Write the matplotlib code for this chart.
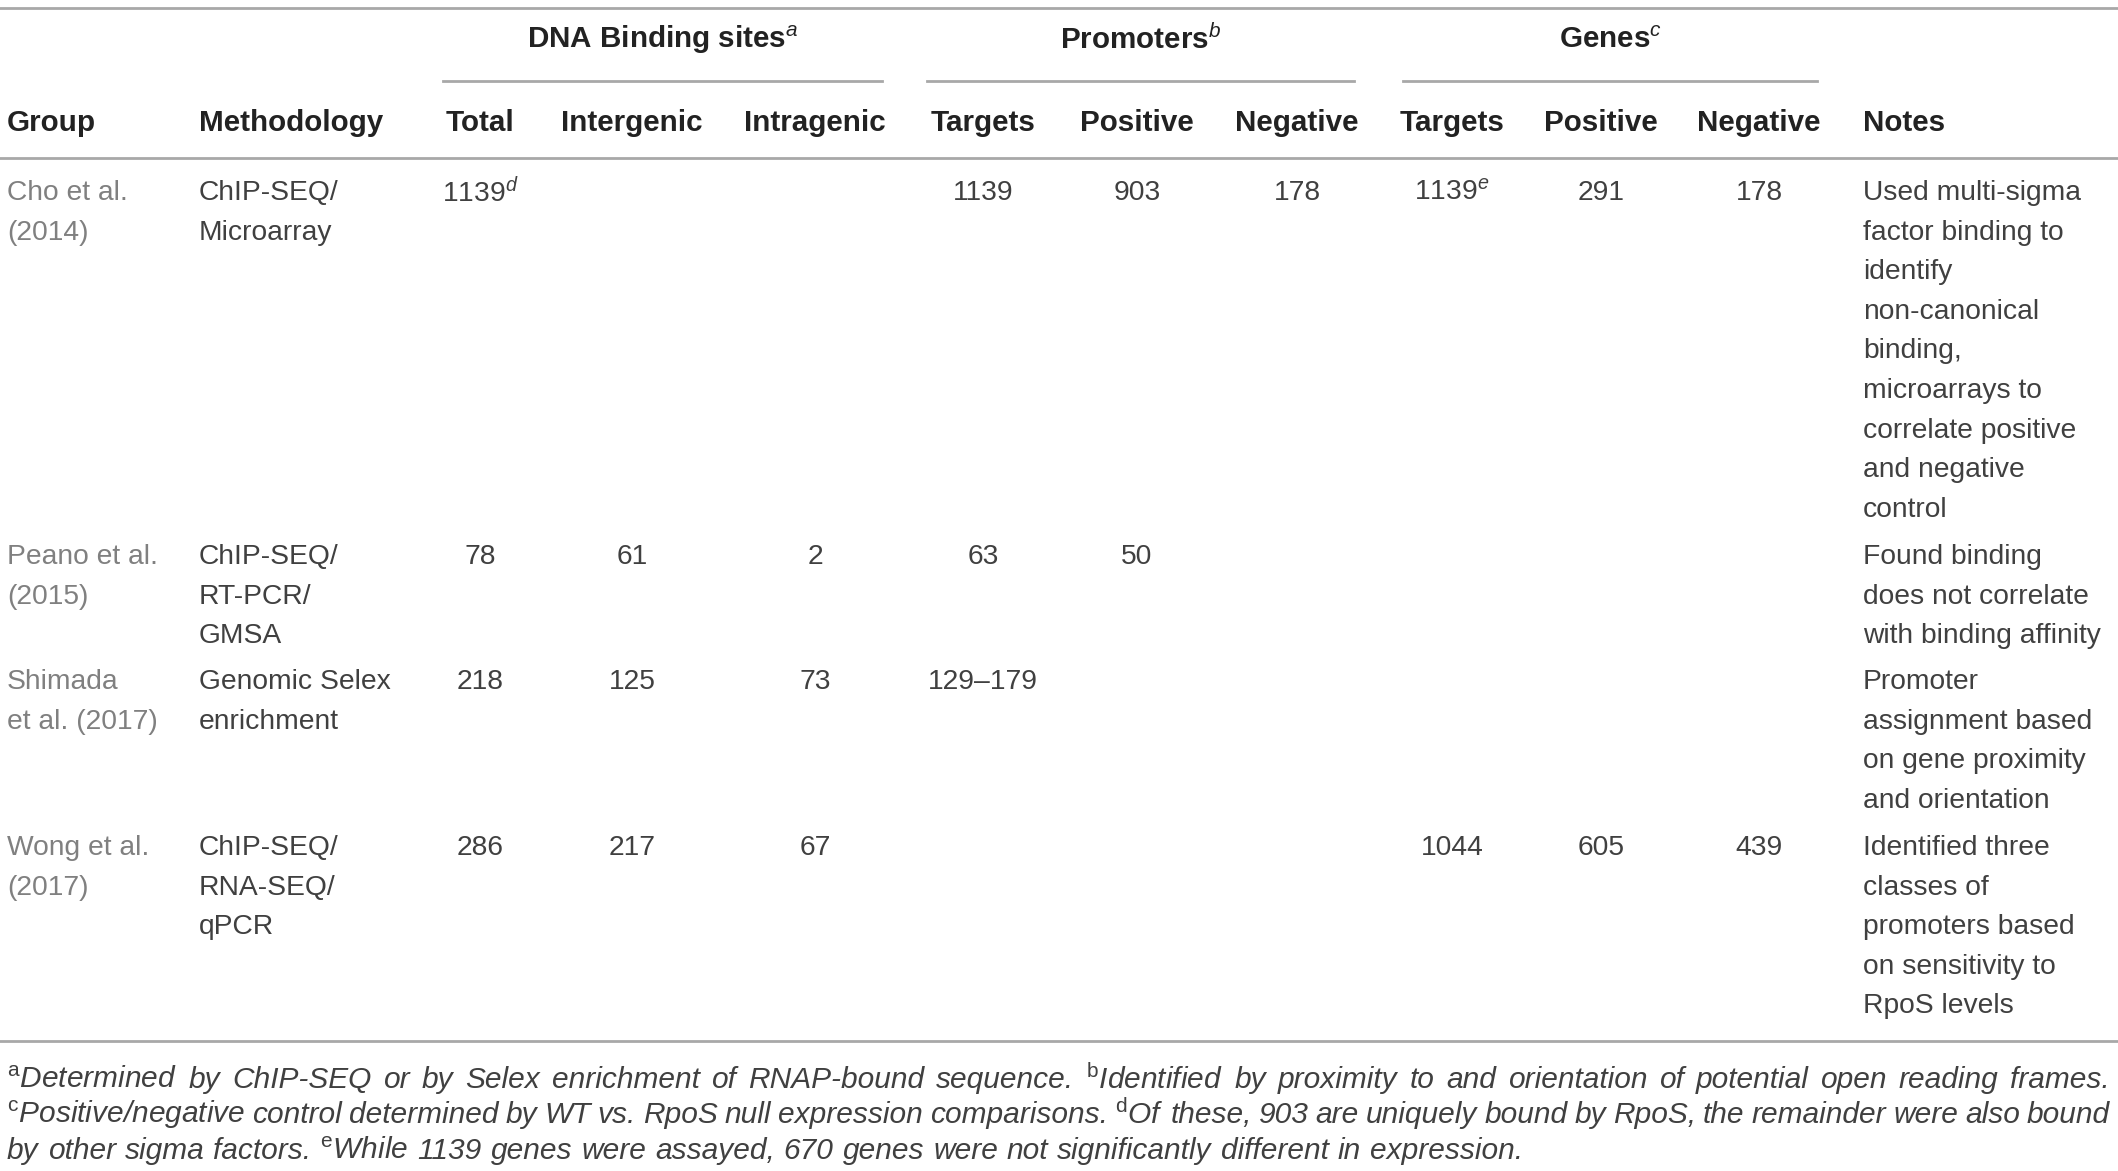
import matplotlib
matplotlib.use("Agg")
from matplotlib import pyplot as plt

plt.rcParams['font.family'] = ['Liberation Sans', 'DejaVu Sans']
plt.rcParams['mathtext.fontset'] = 'custom'
plt.rcParams['mathtext.rm'] = 'Liberation Sans'
plt.rcParams['mathtext.it'] = 'Liberation Sans:italic'
plt.rcParams['mathtext.bf'] = 'Liberation Sans:bold'

# table content
group_headers = ["DNA Binding sites$^{a}$", "Promoters$^{b}$", "Genes$^{c}$"]
col_headers = ["Group", "Methodology", "Total", "Intergenic", "Intragenic",
               "Targets", "Positive", "Negative", "Targets", "Positive", "Negative", "Notes"]

groups = [["Cho et al.", "(2014)"],
          ["Peano et al.", "(2015)"],
          ["Shimada", "et al. (2017)"],
          ["Wong et al.", "(2017)"]]
methods = [["ChIP-SEQ/", "Microarray"],
           ["ChIP-SEQ/", "RT-PCR/", "GMSA"],
           ["Genomic Selex", "enrichment"],
           ["ChIP-SEQ/", "RNA-SEQ/", "qPCR"]]
dna_total = ["1139$^{d}$", "78", "218", "286"]
dna_inter = ["", "61", "125", "217"]
dna_intra = ["", "2", "73", "67"]
prom_targets = ["1139", "63", "129\u2013179", ""]
prom_pos = ["903", "50", "", ""]
prom_neg = ["178", "", "", ""]
gene_targets = ["1139$^{e}$", "", "", "1044"]
gene_pos = ["291", "", "", "605"]
gene_neg = ["178", "", "", "439"]
notes = [["Used multi-sigma", "factor binding to", "identify", "non-canonical", "binding,",
          "microarrays to", "correlate positive", "and negative", "control"],
         ["Found binding", "does not correlate", "with binding affinity"],
         ["Promoter", "assignment based", "on gene proximity", "and orientation"],
         ["Identified three", "classes of", "promoters based", "on sensitivity to",
          "RpoS levels"]]

footnote_lines = [
    "$^{\\mathrm{a}}$Determined by ChIP-SEQ or by Selex enrichment of RNAP-bound sequence. "
    "$^{\\mathrm{b}}$Identified by proximity to and orientation of potential open reading frames.",
    "$^{\\mathrm{c}}$Positive/negative control determined by WT vs. RpoS null expression comparisons. "
    "$^{\\mathrm{d}}$Of these, 903 are uniquely bound by RpoS, the remainder were also bound",
    "by other sigma factors. $^{\\mathrm{e}}$While 1139 genes were assayed, 670 genes were "
    "not significantly different in expression.",
]

W, H = 2118, 1171
fig = plt.figure(figsize=(W / 100, H / 100), dpi=100)
ax = fig.add_axes([0, 0, 1, 1])
ax.set_xlim(0, W)
ax.set_ylim(H, 0)
ax.axis('off')

line_col = '#a8a8a8'
txt_col = '#404040'
grp_col = '#808080'
head_col = '#222222'
fs = 20.3
fs_head = 21.3
fs_foot = 21.5
step = 39.6

# rules
ax.plot([0, W], [8, 8], color=line_col, lw=2)
ax.plot([0, W], [158, 158], color=line_col, lw=2)
ax.plot([0, W], [1041, 1041], color=line_col, lw=2)
spans = [(443, 882), (927, 1354), (1403, 1817)]
for (a, b), lab in zip(spans, group_headers):
    ax.plot([a, b], [81, 81], color=line_col, lw=2)
    ax.text((a + b) / 2, 40, lab, ha='center', va='center', fontsize=fs_head,
            fontweight='bold', color=head_col)

col_x = [7, 199, 480, 632, 815, 983, 1137, 1297, 1452, 1601, 1759, 1863]
col_ha = ['left', 'left'] + ['center'] * 9 + ['left']
for x, ha, lab in zip(col_x, col_ha, col_headers):
    ax.text(x, 123, lab, ha=ha, va='center', fontsize=fs_head, fontweight='bold',
            color=head_col)

row_y = [193, 557, 682, 848]
num_cols = [dna_total, dna_inter, dna_intra, prom_targets, prom_pos, prom_neg,
            gene_targets, gene_pos, gene_neg]
for i, y0 in enumerate(row_y):
    for k, s in enumerate(groups[i]):
        ax.text(col_x[0], y0 + k * step, s, ha='left', va='center', fontsize=fs,
                color=grp_col)
    for k, s in enumerate(methods[i]):
        ax.text(col_x[1], y0 + k * step, s, ha='left', va='center', fontsize=fs,
                color=txt_col)
    for j, col in enumerate(num_cols):
        if col[i]:
            ax.text(col_x[2 + j], y0, col[i], ha='center', va='center', fontsize=fs,
                    color=txt_col)
    for k, s in enumerate(notes[i]):
        ax.text(col_x[11], y0 + k * step, s, ha='left', va='center', fontsize=fs,
                color=txt_col)

# justified footnotes
renderer = fig.canvas.get_renderer()
foot_y = [1080, 1115, 1151]
x0, x1 = 7, 2110
for n, (line, y) in enumerate(zip(footnote_lines, foot_y)):
    words = line.split(' ')
    texts = [ax.text(0, y, w, ha='left', va='center', fontsize=fs_foot,
                     fontstyle='italic', color=txt_col) for w in words]
    widths = [t.get_window_extent(renderer).width for t in texts]
    gap = fs_foot * 100 / 72 * 0.3
    if n < len(footnote_lines) - 1:
        gap = (x1 - x0 - sum(widths)) / (len(words) - 1)
    x = x0
    for t, w in zip(texts, widths):
        t.set_x(x)
        x += w + gap

fig.savefig('out.png', dpi=100)
